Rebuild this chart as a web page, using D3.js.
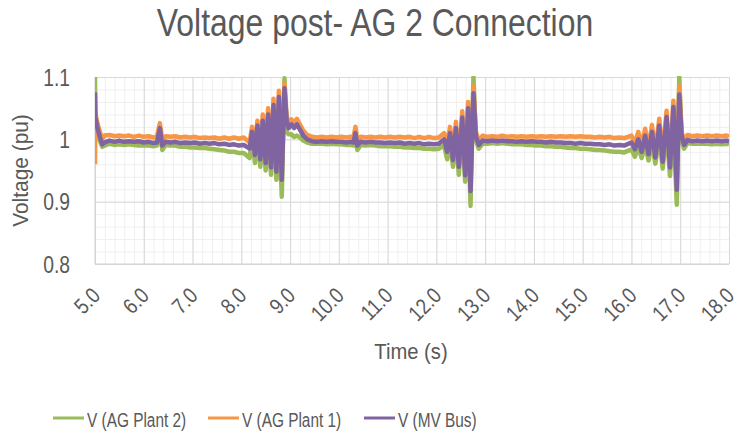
<!DOCTYPE html>
<html>
<head>
<meta charset="utf-8">
<script src="https://cdn.jsdelivr.net/npm/d3@7"></script>
<style>
  body { margin: 0; background: #fff; }
  svg { display: block; font-family: "Liberation Sans", Arial, sans-serif; }
</style>
</head>
<body>
<script>

// Tid (s), en gemensam axel för alla tre serierna
const time = [
    5.00, 5.01, 5.05, 5.10, 5.15, 5.20, 5.30, 5.40, 5.50, 5.60, 5.70, 5.80, 5.90, 6.00, 6.10, 6.20, 6.27, 6.33, 6.38, 6.45,
    6.55, 6.65, 6.75, 6.85, 6.95, 7.05, 7.15, 7.25, 7.35, 7.45, 7.55, 7.65, 7.75, 7.85, 7.95, 8.05,
    8.17, 8.22, 8.28, 8.33, 8.39, 8.44, 8.50, 8.55, 8.61, 8.66, 8.72, 8.77, 8.83, 8.885, 8.93, 8.97, 9.03, 9.08, 9.14, 9.20, 9.27, 9.35, 9.45,
    9.55, 9.65, 9.75, 9.85, 9.95, 10.05, 10.15, 10.25, 10.30, 10.34, 10.38, 10.45,
    10.55, 10.65, 10.75, 10.85, 10.95, 11.05, 11.15, 11.25, 11.35, 11.45, 11.55, 11.65, 11.75, 11.85, 11.95, 12.05,
    12.16, 12.22, 12.28, 12.34, 12.40, 12.46, 12.53, 12.59, 12.65, 12.70, 12.76, 12.81, 12.87, 12.95, 13.05,
    13.15, 13.25, 13.35, 13.45, 13.55, 13.65, 13.75, 13.85, 13.95, 14.05, 14.15, 14.25, 14.35, 14.45, 14.55, 14.65, 14.75, 14.85, 14.95, 15.05, 15.15, 15.25, 15.35, 15.45, 15.55, 15.65, 15.75, 15.85,
    16.00, 16.07, 16.14, 16.21, 16.28, 16.35, 16.42, 16.49, 16.57, 16.64, 16.72, 16.79, 16.86, 16.93, 16.98, 17.03, 17.08, 17.15, 17.25,
    17.35, 17.45, 17.55, 17.65, 17.75, 17.85, 17.95, 18.00
];

// V (AG Plant 2), pu
const vAgPlant2 = [
    1.100, 1.000, 1.010, 0.997, 0.988, 0.990, 0.993, 0.991, 0.992, 0.991, 0.992, 0.991, 0.990, 0.990, 0.990, 0.989, 0.990, 1.012, 0.983, 0.991,
    0.990, 0.990, 0.988, 0.988, 0.987, 0.987, 0.986, 0.986, 0.985, 0.984, 0.983, 0.982, 0.980, 0.980, 0.978, 0.978,
    0.970, 1.000, 0.962, 1.008, 0.956, 1.015, 0.950, 1.022, 0.943, 1.035, 0.935, 1.045, 0.908, 1.098, 1.012, 1.008, 1.008, 1.004, 1.006, 1.003, 0.998, 0.995, 0.993,
    0.993, 0.993, 0.992, 0.993, 0.992, 0.992, 0.991, 0.991, 0.990, 1.002, 0.983, 0.991,
    0.990, 0.991, 0.990, 0.989, 0.989, 0.989, 0.988, 0.988, 0.987, 0.987, 0.986, 0.986, 0.985, 0.985, 0.984, 0.985,
    0.990, 0.968, 0.998, 0.956, 1.004, 0.943, 1.018, 0.932, 1.030, 0.893, 1.100, 0.998, 0.985, 0.993, 0.993,
    0.994, 0.993, 0.994, 0.993, 0.992, 0.992, 0.992, 0.991, 0.991, 0.990, 0.990, 0.989, 0.989, 0.988, 0.988, 0.987, 0.986, 0.986, 0.985, 0.985, 0.984, 0.983, 0.983, 0.982, 0.981, 0.980, 0.980, 0.979,
    0.984, 0.972, 0.988, 0.970, 0.992, 0.966, 0.996, 0.961, 1.004, 0.953, 1.014, 0.941, 1.028, 0.895, 1.100, 0.997, 0.985, 0.994, 0.993,
    0.993, 0.993, 0.993, 0.992, 0.993, 0.992, 0.993, 0.992
];

// V (AG Plant 1), pu
const vAgPlant1 = [
    0.960, 1.040, 1.026, 1.012, 1.001, 1.006, 1.007, 1.005, 1.006, 1.005, 1.006, 1.004, 1.006, 1.004, 1.005, 1.003, 1.004, 1.026, 0.999, 1.005,
    1.004, 1.005, 1.003, 1.004, 1.003, 1.004, 1.002, 1.003, 1.002, 1.003, 1.001, 1.003, 1.001, 1.003, 1.001, 1.003,
    0.995, 1.020, 0.985, 1.030, 0.978, 1.040, 0.972, 1.050, 0.965, 1.065, 0.958, 1.078, 0.950, 1.090, 1.038, 1.026, 1.032, 1.026, 1.033, 1.024, 1.014, 1.007, 1.004,
    1.003, 1.004, 1.003, 1.004, 1.003, 1.004, 1.003, 1.004, 1.003, 1.020, 0.998, 1.004,
    1.003, 1.004, 1.003, 1.004, 1.003, 1.004, 1.003, 1.004, 1.003, 1.004, 1.002, 1.004, 1.002, 1.004, 1.002, 1.003,
    1.010, 0.990, 1.020, 0.977, 1.028, 0.966, 1.045, 0.952, 1.060, 0.935, 1.085, 1.012, 0.998, 1.006, 1.004,
    1.005, 1.004, 1.006, 1.004, 1.005, 1.004, 1.005, 1.004, 1.005, 1.004, 1.005, 1.004, 1.005, 1.004, 1.005, 1.004, 1.005, 1.004, 1.005, 1.004, 1.004, 1.003, 1.004, 1.003, 1.004, 1.002, 1.003, 1.002,
    1.006, 0.994, 1.012, 0.990, 1.017, 0.986, 1.023, 0.981, 1.033, 0.974, 1.046, 0.965, 1.062, 0.940, 1.085, 1.012, 0.998, 1.007, 1.005,
    1.006, 1.005, 1.006, 1.005, 1.006, 1.005, 1.006, 1.005
];

// V (MV Bus), pu
const vMvBus = [
    1.075, 1.035, 1.018, 1.004, 0.992, 0.995, 0.998, 0.996, 0.998, 0.996, 0.997, 0.996, 0.997, 0.995, 0.996, 0.994, 0.995, 1.018, 0.990, 0.996,
    0.995, 0.996, 0.994, 0.995, 0.994, 0.995, 0.993, 0.994, 0.993, 0.994, 0.992, 0.993, 0.991, 0.992, 0.990, 0.991,
    0.985, 1.012, 0.975, 1.022, 0.968, 1.030, 0.962, 1.040, 0.955, 1.055, 0.948, 1.068, 0.935, 1.082, 1.030, 1.018, 1.024, 1.018, 1.024, 1.016, 1.006, 1.000, 0.997,
    0.996, 0.997, 0.996, 0.997, 0.996, 0.996, 0.995, 0.996, 0.995, 1.010, 0.990, 0.996,
    0.995, 0.996, 0.995, 0.995, 0.994, 0.995, 0.994, 0.995, 0.993, 0.994, 0.993, 0.994, 0.992, 0.993, 0.992, 0.993,
    1.000, 0.980, 1.010, 0.967, 1.018, 0.956, 1.035, 0.942, 1.050, 0.917, 1.074, 1.005, 0.991, 0.998, 0.997,
    0.998, 0.997, 0.998, 0.997, 0.997, 0.996, 0.997, 0.996, 0.997, 0.996, 0.996, 0.995, 0.996, 0.995, 0.995, 0.994, 0.994, 0.993, 0.994, 0.993, 0.993, 0.992, 0.992, 0.991, 0.992, 0.990, 0.991, 0.990,
    0.995, 0.984, 1.000, 0.980, 1.006, 0.976, 1.012, 0.971, 1.022, 0.964, 1.036, 0.955, 1.052, 0.919, 1.072, 1.005, 0.991, 0.999, 0.997,
    0.998, 0.997, 0.998, 0.997, 0.998, 0.997, 0.998, 0.997
];

const xTicks = [5, 6, 7, 8, 9, 10, 11, 12, 13, 14, 15, 16, 17, 18];
const yTicks = [0.8, 0.9, 1.0, 1.1];
const yTickLabels = ["0.8", "0.9", "1", "1.1"];

const seriesNames = ["V (AG Plant 2)", "V (AG Plant 1)", "V (MV Bus)"];
const seriesValues = [vAgPlant2, vAgPlant1, vMvBus];
const seriesColors = ["#9bbb59", "#f79646", "#8064a2"];

const textColor = "#595959";
// originalet använder ett smalt typsnitt, så texten trycks ihop i x-led
const narrow = 0.84;

const svg = d3.select("body").append("svg")
    .attr("width", 738)
    .attr("height", 434);

svg.append("rect").attr("width", 738).attr("height", 434).attr("fill", "#fff");

const plot = {left: 95, right: 729, top: 77, bottom: 264};

const x = d3.scaleLinear().domain([5, 18]).range([plot.left, plot.right]);
const y = d3.scaleLinear().domain([0.8, 1.1]).range([plot.bottom, plot.top]);

// Små rutnät (0.2 s och 0.02 pu)
svg.append("g")
    .attr("transform", `translate(0,${plot.bottom})`)
    .call(d3.axisBottom(x).ticks(65).tickSize(-(plot.bottom - plot.top)).tickFormat(""))
    .call(g => g.select(".domain").remove())
    .call(g => g.selectAll("line").attr("stroke", "#efefef"));

svg.append("g")
    .attr("transform", `translate(${plot.left},0)`)
    .call(d3.axisLeft(y).ticks(15).tickSize(-(plot.right - plot.left)).tickFormat(""))
    .call(g => g.select(".domain").remove())
    .call(g => g.selectAll("line").attr("stroke", "#efefef"));

// Stora rutnät
svg.append("g")
    .attr("transform", `translate(0,${plot.bottom})`)
    .call(d3.axisBottom(x).tickValues(xTicks).tickSize(-(plot.bottom - plot.top)).tickFormat(""))
    .call(g => g.select(".domain").remove())
    .call(g => g.selectAll("line").attr("stroke", "#d9d9d9"));

svg.append("g")
    .attr("transform", `translate(${plot.left},0)`)
    .call(d3.axisLeft(y).tickValues(yTicks).tickSize(-(plot.right - plot.left)).tickFormat(""))
    .call(g => g.select(".domain").remove())
    .call(g => g.selectAll("line").attr("stroke", "#d9d9d9"));

// axellinjer
svg.append("line")
    .attr("x1", plot.left).attr("x2", plot.left)
    .attr("y1", plot.top).attr("y2", plot.bottom)
    .attr("stroke", "#d0d0d0");
svg.append("line")
    .attr("x1", plot.left).attr("x2", plot.right)
    .attr("y1", plot.bottom).attr("y2", plot.bottom)
    .attr("stroke", "#d0d0d0");

// y-axelns etiketter
svg.append("g")
    .attr("transform", `translate(${plot.left},0)`)
    .call(d3.axisLeft(y).tickValues(yTicks).tickSize(0)
        .tickFormat((d, i) => yTickLabels[i]))
    .call(g => g.select(".domain").remove())
    .call(g => g.selectAll("text")
        .attr("fill", textColor)
        .attr("x", 0)
        .attr("dy", "0.36em")
        .attr("transform", `translate(-25,0) scale(${narrow},1)`)
        .style("font-size", "23px"));

// x-axelns etiketter, roterade 45 grader
svg.append("g")
    .attr("transform", `translate(0,${plot.bottom})`)
    .call(d3.axisBottom(x).tickValues(xTicks).tickSize(0).tickFormat(d3.format(".1f")))
    .call(g => g.select(".domain").remove())
    .call(g => g.selectAll("text")
        .attr("fill", textColor)
        .attr("y", 0)
        .attr("dy", 0)
        .attr("text-anchor", "end")
        .attr("transform", `translate(6,33) rotate(-45) scale(${narrow},1)`)
        .style("font-size", "22px"));

// linjerna
svg.append("clipPath").attr("id", "clip")
    .append("rect")
    .attr("x", plot.left).attr("y", plot.top - 1)
    .attr("width", plot.right - plot.left).attr("height", plot.bottom - plot.top + 2);

const lineGenerator = d3.line()
    .x((d, i) => x(time[i]))
    .y(d => y(d));

svg.append("g")
    .attr("clip-path", "url(#clip)")
    .selectAll("path")
    .data(seriesValues)
    .enter()
    .append("path")
        .attr("d", d => lineGenerator(d))
        .attr("fill", "none")
        .attr("stroke", (d, i) => seriesColors[i])
        .attr("stroke-width", 4.5)
        .attr("stroke-linejoin", "round");

// titlar
svg.append("text")
    .attr("transform", `translate(375,36) scale(${narrow},1)`)
    .attr("text-anchor", "middle")
    .attr("fill", textColor)
    .style("font-size", "38px")
    .text("Voltage post- AG 2 Connection");

svg.append("text")
    .attr("transform", `translate(411,359) scale(0.92,1)`)
    .attr("text-anchor", "middle")
    .attr("fill", textColor)
    .style("font-size", "22px")
    .text("Time (s)");

svg.append("text")
    .attr("transform", `translate(28,${(plot.top + plot.bottom) / 2}) rotate(-90) scale(0.95,1)`)
    .attr("text-anchor", "middle")
    .attr("fill", textColor)
    .style("font-size", "22px")
    .text("Voltage (pu)");

// legend
const legendX = [53, 208, 364];

const legend = svg.selectAll("g.legend")
    .data(seriesNames)
    .enter()
    .append("g")
        .attr("class", "legend")
        .attr("transform", (d, i) => `translate(${legendX[i]},418)`);

legend.append("line")
    .attr("x1", 0).attr("x2", 31)
    .attr("stroke", (d, i) => seriesColors[i])
    .attr("stroke-width", 3);

legend.append("text")
    .attr("transform", "translate(34,9) scale(0.77,1)")
    .attr("fill", textColor)
    .style("font-size", "20px")
    .text(d => d);

</script>
</body>
</html>
